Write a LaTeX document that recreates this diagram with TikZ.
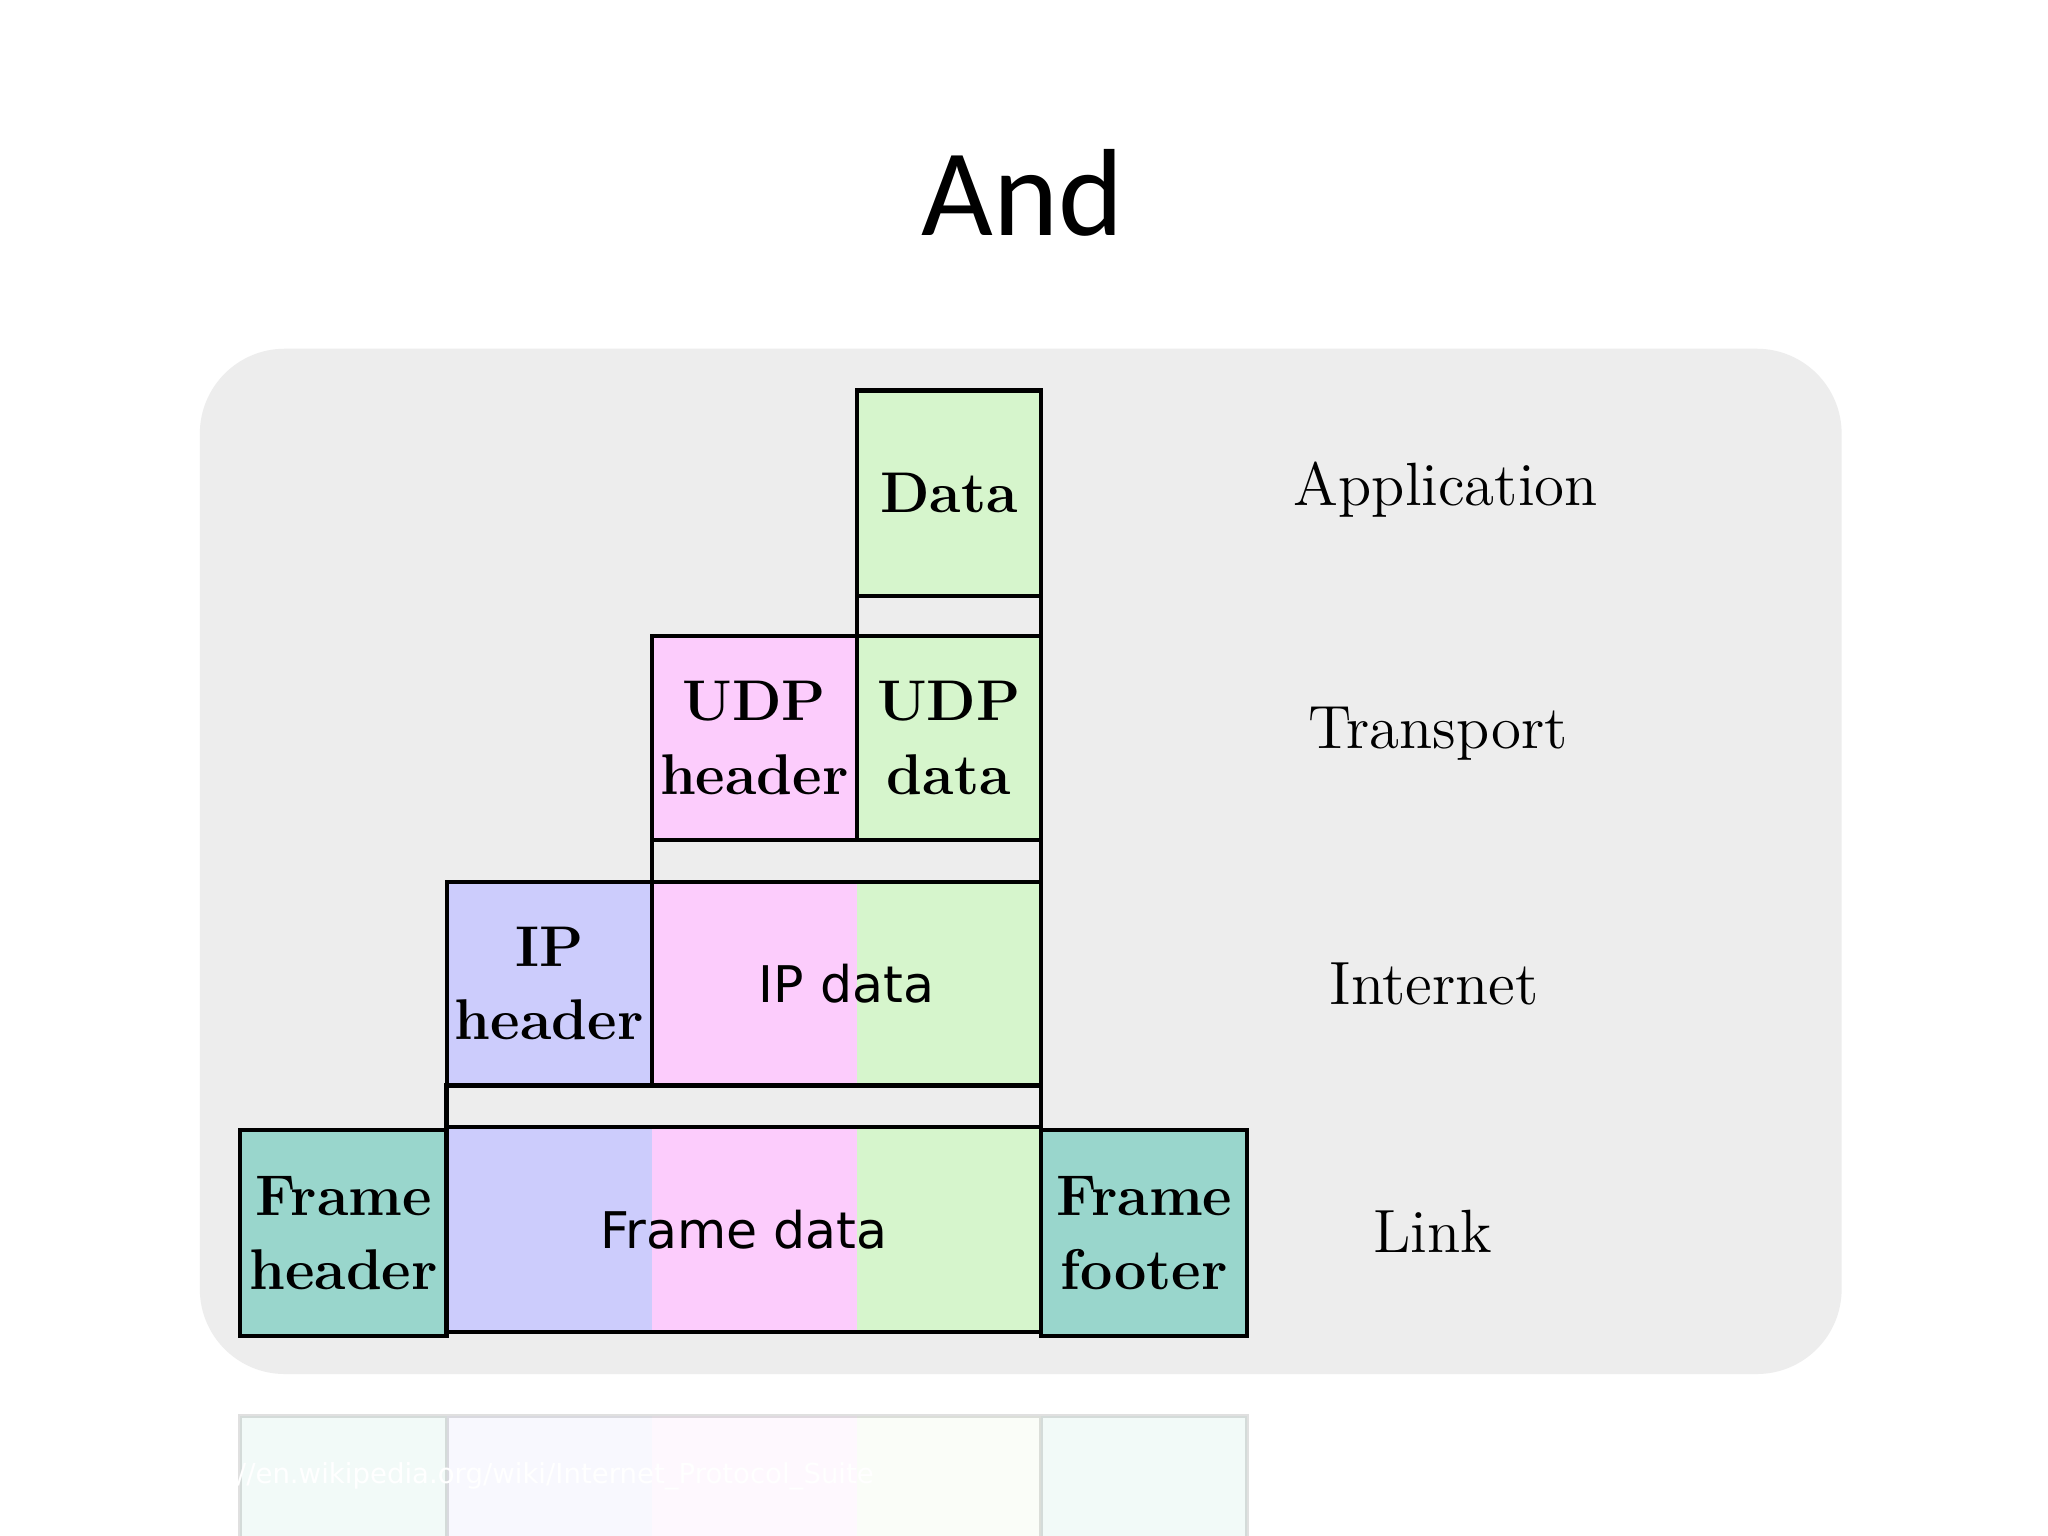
\documentclass[tikz,border=0pt]{standalone}
\usepackage{fontspec}
\newfontfamily\titlefont{Carlito}
\newfontfamily\dvs{DejaVu Sans}
\definecolor{bg}{RGB}{237,237,237}
\definecolor{gr}{RGB}{214,245,204}
\definecolor{pk}{RGB}{252,204,252}
\definecolor{lv}{RGB}{204,204,252}
\definecolor{tl}{RGB}{153,214,204}
\begin{document}
\begin{tikzpicture}[x=0.01cm,y=-0.01cm,
  bx/.style={draw=black,line width=0.9pt,inner sep=0pt,align=center,font=\bfseries\fontsize{12.5}{16}\selectfont},
  lay/.style={font=\fontsize{13.3}{15}\selectfont}]
\useasboundingbox (0,0) rectangle (1568,1176);
\fill[white] (0,0) rectangle (1568,1176);
\node[font=\titlefont\fontsize{27}{30}\selectfont] (title) at (783,148) {And};
\fill[bg,rounded corners=0.65cm] (153,267) rectangle (1410,1052);
% faint reflection
\begin{scope}[opacity=0.12]
\fill[tl] (184,1084) rectangle (342,1176);
\fill[lv] (342,1084) rectangle (499,1176);
\fill[pk] (499,1084) rectangle (656,1176);
\fill[gr] (656,1084) rectangle (797,1176);
\fill[tl] (797,1084) rectangle (955,1176);
\draw[line width=0.9pt] (184,1176)--(184,1084)--(955,1084)--(955,1176) (342,1084)--(342,1176) (797,1084)--(797,1176);
\end{scope}
% fills
\fill[lv] (342,863) rectangle (499,1020);
\fill[pk] (499,863) rectangle (656,1020);
\fill[gr] (656,863) rectangle (797,1020);
\fill[pk] (499,675) rectangle (656,831);
\fill[gr] (656,675) rectangle (797,831);
% boxes
\node[bx,fill=gr,minimum width=1.41cm,minimum height=1.57cm] (data) at (726.5,377.5) {Data};
\node[bx,minimum width=1.41cm,minimum height=0.31cm] (g1) at (726.5,471.5) {};
\node[bx,fill=pk,minimum width=1.57cm,minimum height=1.56cm] (udph) at (577.5,565) {UDP\\header};
\node[bx,fill=gr,minimum width=1.41cm,minimum height=1.56cm] (udpd) at (726.5,565) {UDP\\data};
\node[bx,minimum width=2.98cm,minimum height=0.32cm] (g2) at (648,659) {};
\node[bx,fill=lv,minimum width=1.57cm,minimum height=1.56cm] (iph) at (420.5,753) {IP\\header};
\node[bx,minimum width=2.98cm,minimum height=1.56cm,font=\dvs\fontsize{11}{14}\selectfont] (ipd) at (648,753) {IP data};
\node[bx,minimum width=4.55cm,minimum height=0.32cm] (g3) at (569.5,847) {};
\node[bx,fill=tl,minimum width=1.58cm,minimum height=1.57cm] (fh) at (263,944) {Frame\\header};
\node[bx,minimum width=4.55cm,minimum height=1.57cm,font=\dvs\fontsize{11}{14}\selectfont] (fd) at (569.5,941.5) {Frame data};
\node[bx,fill=tl,minimum width=1.58cm,minimum height=1.57cm] (ff) at (876,944) {Frame\\footer};
% layers
\node[lay] (app) at (1107,375) {Application};
\node[lay] (tr) at (1101,562) {Transport};
\node[lay] (in) at (1098,753) {Internet};
\node[lay] (ln) at (1097,943) {Link};
\node[white,font=\dvs\fontsize{6}{7}\selectfont] (url) at (400,1130) {http://en.wikipedia.org/wiki/Internet\_Protocol\_Suite};
\end{tikzpicture}
\end{document}
